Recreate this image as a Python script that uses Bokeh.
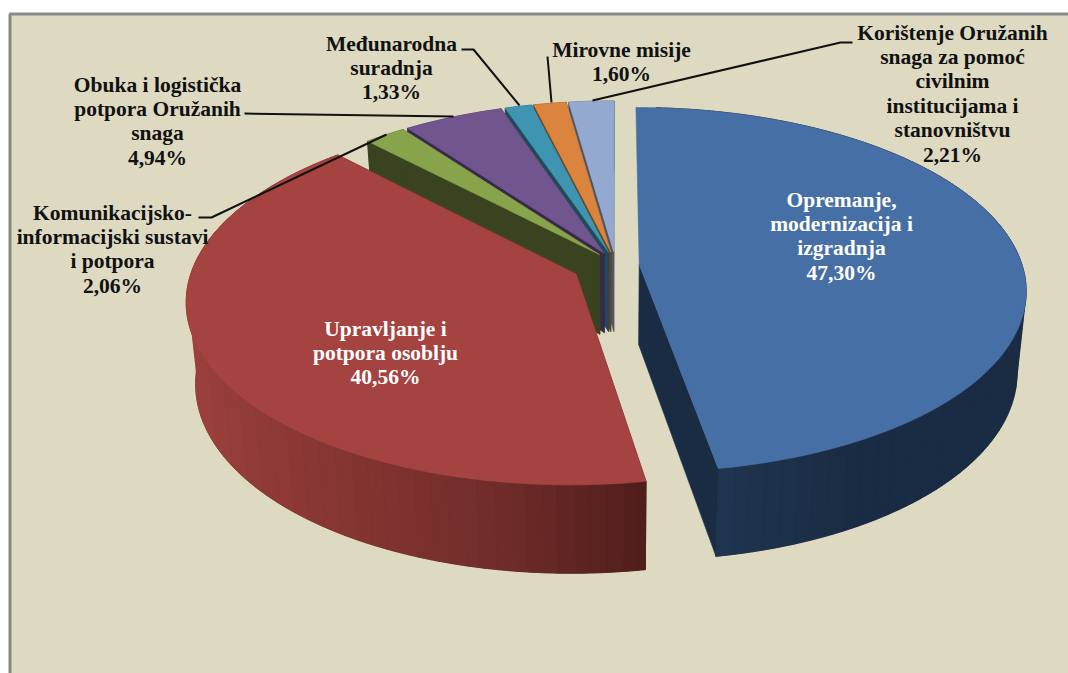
import numpy as np
from bokeh.plotting import figure
from bokeh.models import Range1d, ColumnDataSource
from bokeh.core.properties import value
from bokeh.embed import file_html
from bokeh.resources import INLINE

# ---- data, clockwise from 12 o'clock, drawn back to front afterwards
categories = ["Opremanje, modernizacija i izgradnja", "Upravljanje i potpora osoblju",
              "Komunikacijsko-informacijski sustavi i potpora",
              "Obuka i logistička potpora Oružanih snaga", "Međunarodna suradnja",
              "Mirovne misije", "Korištenje Oružanih snaga za pomoć civilnim institucijama i stanovništvu"]
values = [47.30, 40.56, 2.06, 4.94, 1.33, 1.60, 2.21]
label_lines = [["Opremanje,", "modernizacija i", "izgradnja"],
               ["Upravljanje i", "potpora osoblju"],
               ["Komunikacijsko-", "informacijski sustavi", "i potpora"],
               ["Obuka i logistička", "potpora Oružanih", "snaga"],
               ["Međunarodna", "suradnja"],
               ["Mirovne misije"],
               ["Korištenje Oružanih", "snaga za pomoć", "civilnim", "institucijama i", "stanovništvu"]]

# ---- styles
top_colors = ["#466fa5", "#a54340", "#87a44b", "#71558f", "#3f95b1", "#db843d", "#93a9cf"]
wall_colors = ["#1a2c44", "#521e1c", "#39431f", "#38294c", "#1f4a58", "#6a4020", "#4a566c"]
explode = [0.07, 0.105, 0.065, 0.065, 0.065, 0.065, 0.065]
radius = [1, 1, 0.975, 0.975, 0.975, 0.975, 0.975]
shift_x = [0, 0, 3, 3, 3, 3, 3]
shift_y = [0, 0, -2, -2, -2, -2, -2]
label_x = [841, 385, 112, 157, 391, 621, 952]
label_y0 = [199, 328, 212, 84, 43, 49, 32]
label_step = 24.4
label_color = ["#ffffff", "#ffffff", "#111111", "#111111", "#111111", "#111111", "#111111"]
leaders_x = [[198, 211, 386], [244, 453], [461, 473, 519], [547, 551], [852, 840, 592]]
leaders_y = [[217, 217, 134], [113, 116], [49, 49, 105], [56, 102], [42, 42, 100]]

BG = "#dedac2"
FRAME = "#888888"
FONT = "Liberation Serif"
FS = "21.5px"

# ---- projection of the pie plane
CX, CY, A, B, K = 612, 265, 383, 179, 0.139
D = 80
BOTTOM_SCALE = 0.978


def project(x, y):
    w = 1 + K * y
    return CX + A * x / w, CY - B * y / w


def depth(y):
    return D * (1 - 0.1 * y)


def lower(x):
    return CX + (x - CX) * BOTTOM_SCALE


W, H = 1068, 673
p = figure(width=W, height=H, x_range=Range1d(0, W), y_range=Range1d(H, 0),
           output_backend="svg", toolbar_location=None, min_border=0,
           background_fill_color="white", border_fill_color="white", outline_line_color=None)
p.axis.visible = False
p.grid.visible = False

p.quad(left=[9.5], right=[1090], top=[13.5], bottom=[700], fill_color=BG, line_color=FRAME, line_width=3)

fr = np.cumsum([0] + values) / sum(values) * 2 * np.pi


def lerp_hex(stops, x):
    xs = [s[0] for s in stops]
    rgb = [np.interp(x, xs, [int(s[1][i:i + 2], 16) for s in stops]) for i in (1, 3, 5)]
    return "#%02x%02x%02x" % tuple(int(v) for v in rgb)


red_stops = [(186, "#9c413d"), (300, "#8b3835"), (500, "#702d2a"), (650, "#4f1e1b")]
blue_stops = [(717, "#20354f"), (860, "#1a2c44"), (1030, "#1a2c44")]
BAND = 16

for i in [6, 5, 4, 3, 2, 1, 0]:
    t0, t1 = fr[i], fr[i + 1]
    mid = (t0 + t1) / 2
    ox, oy = explode[i] * np.sin(mid), explode[i] * np.cos(mid)
    n = max(6, int((t1 - t0) / 0.01))
    th = np.linspace(t0, t1, n + 1)
    px = ox + radius[i] * np.sin(th)
    py = oy + radius[i] * np.cos(th)
    rx, ry = project(px, py)
    ax, ay = project(ox, oy)
    rx, ax = rx + shift_x[i], ax + shift_x[i]
    ry, ay = ry + shift_y[i], ay + shift_y[i]
    dp = depth(py)
    da = depth(oy)
    lx_rim = lower(rx)
    lx_ap = lower(ax)
    wx, wy, wc = [], [], []
    # radial walls (the blue slice's far wall is hidden behind its top)
    for j in ((-1,) if i == 0 else (0, -1)):
        wx.append([ax, rx[j], lx_rim[j], lx_ap])
        wy.append([ay, ry[j], ry[j] + dp[j], ay + da])
        wc.append(wall_colors[i])
    # outer wall: the blue slice's starts just past its far edge, so none of it peeks out there
    k = 6 if i == 0 else 0
    wx.append(list(np.r_[rx[k:], lx_rim[k:][::-1]]))
    wy.append(list(np.r_[ry[k:], (ry + dp)[k:][::-1]]))
    wc.append(wall_colors[i])
    # shaded bands of the outer wall, grouped by horizontal position
    if i < 2:
        stops = red_stops if i == 1 else blue_stops
        bands = np.floor(rx / BAND).astype(int)
        start = k
        for j in range(k + 1, n + 2):
            if j == n + 1 or bands[j] != bands[start]:
                end = min(j, n)
                sx, sl, sy, sd = rx[start:end + 1], lx_rim[start:end + 1], ry[start:end + 1], dp[start:end + 1]
                wx.append(list(np.r_[sx, sl[::-1]]))
                wy.append(list(np.r_[sy, (sy + sd)[::-1]]))
                wc.append(lerp_hex(stops, sx.mean()))
                start = end
    src = ColumnDataSource(dict(x=wx, y=wy, c=wc))
    p.patches("x", "y", source=src, fill_color="c", line_color="c", line_width=0.6)
    p.patch(np.r_[ax, rx], np.r_[ay, ry], fill_color=top_colors[i], line_color=top_colors[i], line_width=0.6)

for lx, ly in zip(leaders_x, leaders_y):
    p.line(lx, ly, line_color="#111111", line_width=2)

tx, ty, tt, tc = [], [], [], []
for i, lines in enumerate(label_lines):
    pct = f"{values[i]:.2f}%".replace(".", ",")
    for j, s in enumerate(lines + [pct]):
        tx.append(label_x[i])
        ty.append(label_y0[i] + j * label_step)
        tt.append(s)
        tc.append(label_color[i])
p.text(tx, ty, text=tt, text_color=tc, text_font=value(FONT), text_font_style="bold",
       text_font_size=value(FS), text_align="center", text_baseline="middle")

open("out.html", "w").write(file_html(p, INLINE))
